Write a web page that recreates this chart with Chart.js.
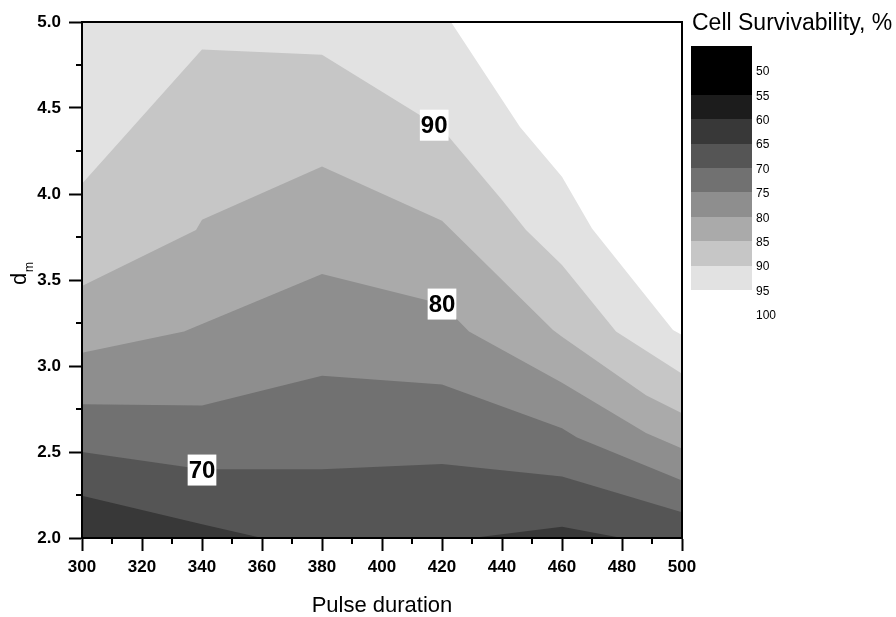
<!DOCTYPE html>
<html lang="en">
<head>
<meta charset="UTF-8">
<title>Cell Survivability contour</title>
<script src="https://cdn.jsdelivr.net/npm/chart.js"></script>
<style>
  html, body { margin: 0; padding: 0; background: #fff; }
</style>
</head>
<body>
<canvas id="myChart" width="896" height="617"></canvas>
<script>
// contour lines (pulse duration -> d_m)
const levels = [65, 70, 75, 80, 85, 90, 95];
const bandColors = ['#383838', '#555555', '#717171', '#8e8e8e', '#aaaaaa', '#c6c6c6', '#e2e2e2'];

const x65 = [300, 340, 360, 430, 460, 480, 500];
const y65 = [2.245, 2.08, 2.0, 2.0, 2.066, 2.0, 2.0];
const x70 = [300, 340, 380, 420, 460, 500];
const y70 = [2.50, 2.40, 2.40, 2.43, 2.357, 2.15];
const x75 = [300, 340, 380, 420, 460, 465, 500];
const y75 = [2.777, 2.77, 2.944, 2.893, 2.638, 2.585, 2.335];
const x80 = [300, 334, 380, 420, 429, 460, 488, 500];
const y80 = [3.077, 3.20, 3.535, 3.36, 3.20, 2.903, 2.61, 2.52];
const x85 = [300, 338, 340, 380, 420, 457, 460, 488, 500];
const y85 = [3.465, 3.79, 3.85, 4.16, 3.845, 3.21, 3.17, 2.83, 2.725];
const x90 = [300, 340, 380, 420, 440, 448, 460, 478, 500];
const y90 = [4.06, 4.84, 4.81, 4.38, 3.965, 3.79, 3.587, 3.20, 2.955];
const x95 = [300, 423, 446, 460, 470, 497, 500];
const y95 = [5.0, 5.0, 4.39, 4.10, 3.80, 3.21, 3.18];

// contour labels
const labelText = ['70', '80', '90'];
const labelX = [340, 420, 417.4];
const labelY = [2.395, 3.36, 4.40];

// minor ticks
const minorX = [310, 330, 350, 370, 390, 410, 430, 450, 470, 490];
const minorY = [2.25, 2.75, 3.25, 3.75, 4.25, 4.75];

// colour scale legend
const scaleColors = ['#000000', '#000000', '#1c1c1c', '#383838', '#555555', '#717171', '#8e8e8e', '#aaaaaa', '#c6c6c6', '#e2e2e2'];
const scaleLabels = ['50', '55', '60', '65', '70', '75', '80', '85', '90', '95', '100'];

const FONT = "'Liberation Sans', Arial, sans-serif";
Chart.defaults.color = '#000';
Chart.defaults.font.family = FONT;

const xs = [x65, x70, x75, x80, x85, x90, x95];
const ys = [y65, y70, y75, y80, y85, y90, y95];

const datasets = levels.map((lv, k) => ({
    label: String(lv),
    data: xs[k].map((x, i) => ({ x: x, y: ys[k][i] })),
    backgroundColor: bandColors[k],
    borderColor: 'rgba(0,0,0,0)',
    borderWidth: 1,
    fill: 'start',
    pointRadius: 0,
    tension: 0
}));

const extras = {
    id: 'extras',
    afterDraw(chart) {
        const ctx = chart.ctx;
        const a = chart.chartArea;
        const sx = chart.scales.x, sy = chart.scales.y;
        ctx.save();

        // frame
        ctx.strokeStyle = '#000';
        ctx.lineWidth = 2;
        ctx.strokeRect(a.left, a.top, a.right - a.left, a.bottom - a.top);

        // minor ticks
        ctx.beginPath();
        minorX.forEach(v => {
            const p = Math.round(sx.getPixelForValue(v));
            ctx.moveTo(p, a.bottom);
            ctx.lineTo(p, a.bottom + 6);
        });
        minorY.forEach(v => {
            const p = Math.round(sy.getPixelForValue(v));
            ctx.moveTo(a.left, p);
            ctx.lineTo(a.left - 6, p);
        });
        ctx.stroke();

        // contour labels
        ctx.font = 'bold 24px ' + FONT;
        ctx.textAlign = 'center';
        ctx.textBaseline = 'middle';
        labelText.forEach((t, i) => {
            const px = sx.getPixelForValue(labelX[i]);
            const py = sy.getPixelForValue(labelY[i]);
            const w = ctx.measureText(t).width + 2;
            ctx.fillStyle = '#fff';
            ctx.fillRect(px - w / 2, py - 15.5, w, 31);
            ctx.fillStyle = '#000';
            ctx.fillText(t, px, py + 1);
        });

        // y axis title d_m
        ctx.save();
        ctx.translate(26, 285);
        ctx.rotate(-Math.PI / 2);
        ctx.textAlign = 'left';
        ctx.textBaseline = 'alphabetic';
        ctx.font = '22px ' + FONT;
        ctx.fillText('d', 0, 0);
        ctx.font = '12px ' + FONT;
        ctx.fillText('m', 13, 7);
        ctx.restore();

        // colour scale
        const cx = 691, cw = 61, cy = 46, ch = 24.4;
        scaleColors.forEach((c, i) => {
            const t = Math.round(cy + i * ch), b = Math.round(cy + (i + 1) * ch);
            ctx.fillStyle = c;
            ctx.fillRect(cx, t, cw, b - t);
        });
        ctx.fillStyle = '#000';
        ctx.font = '12px ' + FONT;
        ctx.textAlign = 'left';
        ctx.textBaseline = 'middle';
        scaleLabels.forEach((t, i) => {
            ctx.fillText(t, cx + cw + 4, cy + (i + 1) * ch + 1.5);
        });
        ctx.font = '23px ' + FONT;
        ctx.textBaseline = 'alphabetic';
        ctx.fillText('Cell Survivability, %', 692, 29.5);

        ctx.restore();
    }
};

const ctx = document.getElementById('myChart').getContext('2d');
const myChart = new Chart(ctx, {
    type: 'line',
    data: { datasets: datasets },
    options: {
        responsive: false,
        animation: false,
        events: [],
        layout: { padding: { top: 22, right: 214, left: 0, bottom: 0 } },
        plugins: { legend: { display: false }, tooltip: { enabled: false } },
        scales: {
            x: {
                type: 'linear',
                min: 300, max: 500,
                z: 1,
                afterFit: s => { s.height = 79; },
                ticks: {
                    stepSize: 20, padding: 6, maxRotation: 0, autoSkip: false,
                    font: { size: 17, weight: 'bold' }
                },
                grid: { drawOnChartArea: false, tickLength: 13, tickWidth: 2, tickColor: '#000' },
                border: { color: '#000', width: 2 },
                title: {
                    display: true, text: 'Pulse duration',
                    font: { size: 22, lineHeight: 1 }, padding: 0
                }
            },
            y: {
                type: 'linear',
                min: 2, max: 5,
                z: 1,
                afterFit: s => { s.width = 82; },
                ticks: {
                    stepSize: 0.5, padding: 8,
                    font: { size: 17, weight: 'bold' },
                    callback: v => v.toFixed(1)
                },
                grid: { drawOnChartArea: false, tickLength: 13, tickWidth: 2, tickColor: '#000' },
                border: { color: '#000', width: 2 }
            }
        }
    },
    plugins: [extras]
});
</script>
</body>
</html>
